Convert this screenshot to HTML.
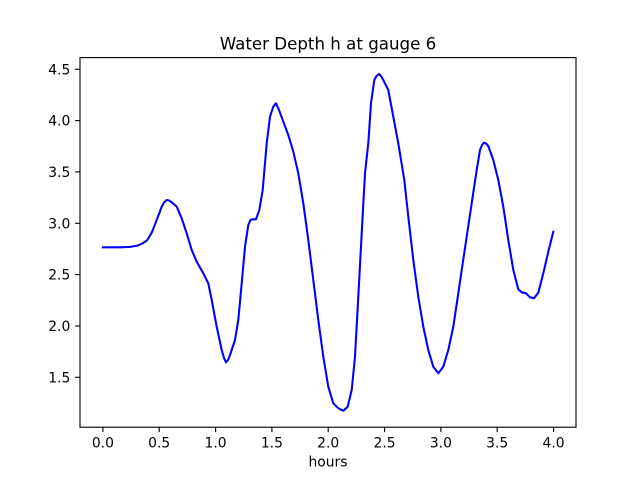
<!DOCTYPE html>
<html>
<head>
<meta charset="utf-8">
<style>
html,body{margin:0;padding:0;background:#fff;}
svg{display:block;}
text{font-family:"DejaVu Sans","Liberation Sans",sans-serif;fill:#000;}
</style>
</head>
<body>
<svg width="640" height="480" viewBox="0 0 640 480" xmlns="http://www.w3.org/2000/svg">
<rect x="0" y="0" width="640" height="480" fill="#fff"/>
<!-- series -->
<polyline fill="none" stroke="#0000ff" stroke-width="2.08" stroke-linejoin="round" stroke-linecap="square"
points="102.9,247.3 120,247.3 130,246.9 138,245.5 143,243 147,240.5 151.7,232.7 156.7,220 161.7,206.7 164,202.5 166.7,200 169,200.5 171.7,202.3 176.7,206.7 181.7,218.3 186.7,233.3 191.7,250 196.7,261.7 203.3,273.3 208.3,283.3 211.7,300 216.7,326.7 221.7,350 224,358 226,362.3 228,360 230,355 235,340 238.3,320 241.7,283.3 245,246.7 248.3,225 250.5,220 252.3,219.3 256,219.3 259.3,210 262.7,190 266.7,143.3 270,116.7 273.3,106.7 276,103.3 279,110 283.3,121.7 288.3,135 293.3,151.7 298.3,173.3 303.3,203.3 308.3,240 313.3,280 318.3,320 323.3,356.7 328.3,386.7 333.3,403.3 338.3,408.3 343.3,410.7 347.7,406.7 351.7,390 355,356.7 358.3,296.7 361.7,233.3 365,173.3 368.3,143.3 371,103.3 374.3,80 376.5,76 379,74 381,76 383.3,80 388.3,90 393.3,116.7 398.3,143.3 404.3,180 408.3,216.7 413.3,260 418.3,296.7 423.3,326.7 428.3,350 433.3,366.7 438.3,373.3 443.3,366.7 448.3,350 453.3,326.7 458.3,293.3 461.7,270 466.7,236.7 471.7,203.3 476.7,170 480,150 482,145 484,142.7 486,143.5 488.3,146 493.3,160 498.3,180 503.3,206.7 508.3,240 513.3,270 518.3,289.3 521.7,292.3 526,293.3 530,297.3 534,298.3 538.3,292.7 543.3,273.3 548.3,251.7 553.3,231.7"/>
<!-- axes frame -->
<rect x="80" y="57.6" width="496" height="369.6" fill="none" stroke="#000" stroke-width="1.11"/>
<!-- x ticks -->
<g stroke="#000" stroke-width="1.11">
<line x1="102.9" y1="427.2" x2="102.9" y2="432.1"/>
<line x1="159.2" y1="427.2" x2="159.2" y2="432.1"/>
<line x1="215.6" y1="427.2" x2="215.6" y2="432.1"/>
<line x1="271.9" y1="427.2" x2="271.9" y2="432.1"/>
<line x1="328.2" y1="427.2" x2="328.2" y2="432.1"/>
<line x1="384.6" y1="427.2" x2="384.6" y2="432.1"/>
<line x1="440.9" y1="427.2" x2="440.9" y2="432.1"/>
<line x1="497.2" y1="427.2" x2="497.2" y2="432.1"/>
<line x1="553.6" y1="427.2" x2="553.6" y2="432.1"/>
</g>
<g font-size="13.89" text-anchor="middle">
<text x="102.9" y="447.7">0.0</text>
<text x="159.2" y="447.7">0.5</text>
<text x="215.6" y="447.7">1.0</text>
<text x="271.9" y="447.7">1.5</text>
<text x="328.2" y="447.7">2.0</text>
<text x="384.6" y="447.7">2.5</text>
<text x="440.9" y="447.7">3.0</text>
<text x="497.2" y="447.7">3.5</text>
<text x="553.6" y="447.7">4.0</text>
</g>
<!-- y ticks -->
<g stroke="#000" stroke-width="1.11">
<line x1="75.1" y1="377.3" x2="80" y2="377.3"/>
<line x1="75.1" y1="326" x2="80" y2="326"/>
<line x1="75.1" y1="274.6" x2="80" y2="274.6"/>
<line x1="75.1" y1="223.3" x2="80" y2="223.3"/>
<line x1="75.1" y1="171.9" x2="80" y2="171.9"/>
<line x1="75.1" y1="120.6" x2="80" y2="120.6"/>
<line x1="75.1" y1="69.3" x2="80" y2="69.3"/>
</g>
<g font-size="13.89" text-anchor="end">
<text x="70.3" y="382.3">1.5</text>
<text x="70.3" y="331">2.0</text>
<text x="70.3" y="279.6">2.5</text>
<text x="70.3" y="228.3">3.0</text>
<text x="70.3" y="176.9">3.5</text>
<text x="70.3" y="125.6">4.0</text>
<text x="70.3" y="74.3">4.5</text>
</g>
<!-- labels -->
<text x="328" y="466.7" font-size="13.89" text-anchor="middle">hours</text>
<text x="328" y="49.3" font-size="16.67" text-anchor="middle">Water Depth h at gauge 6</text>
</svg>
</body>
</html>
